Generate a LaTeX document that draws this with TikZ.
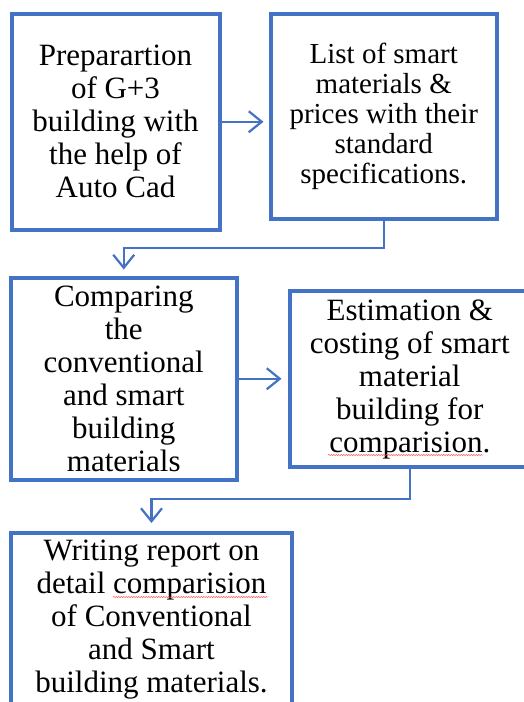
\documentclass[tikz,border=0pt]{standalone}
\usepackage{fontspec}
\setmainfont{Liberation Serif}
\usetikzlibrary{arrows.meta,decorations.pathmorphing}
\definecolor{wblue}{HTML}{4472C4}
\begin{document}
\begin{tikzpicture}[x=1pt,y=-1pt,
  box/.style={draw=wblue, line width=4pt, rectangle, inner sep=0pt, align=center,
    font=\fontsize{31}{33}\selectfont},
  smallbox/.style={box, font=\fontsize{29}{30}\selectfont},
  conn/.style={draw=wblue, line width=2.2pt, -{Straight Barb[length=13pt,width=21pt]}},
  squig/.style={draw=red!70, line width=0.5pt, decorate,
    decoration={snake, amplitude=0.6pt, segment length=2.5pt}}]
\useasboundingbox (0,0) rectangle (524,702);
\clip (0,0) rectangle (524,702);
\fill[white] (0,0) rectangle (524,702);

\node[box, minimum width=208pt, minimum height=215.5pt] (b1) at (115.5,121.75)
  {Preparartion\\of G+3\\building with\\the help of\\Auto Cad};
\node[smallbox, minimum width=226.5pt, minimum height=205pt] (b2) at (383.75,116.5)
  {List of smart\\materials \&\\prices with their\\standard\\specifications.};
\node[box, minimum width=226.5pt, minimum height=202.5pt] (b3) at (123.75,378.75)
  {Comparing\\the\\conventional\\and smart\\building\\materials};
\node[box, minimum width=240.5pt, minimum height=176pt] (b4) at (409.75,379)
  {Estimation \&\\costing of smart\\material\\building for\\comparision.};
\node[box, minimum width=281pt, minimum height=173pt] (b5) at (151.5,619.5)
  {Writing report on\\detail comparision\\of Conventional\\and Smart\\building materials.};

\coordinate (j1) at (0,248);
\coordinate (j2) at (0,499);

\draw[conn, shorten >=5pt] (b1.east) -- (b1.east -| b2.west);
\draw[conn, shorten >=6pt] (b2.south) |- (j1 -| b3.north) -- (b3.north);
\draw[conn, shorten >=6pt] (b3.east) -- (b3.east -| b4.west);
\draw[conn, shorten >=8pt] (b4.south) |- (j2 -| b5.north) -- (b5.north);

\draw[squig] (328,455) -- (483,455);
\draw[squig] (113,597) -- (268,597);
\end{tikzpicture}
\end{document}
